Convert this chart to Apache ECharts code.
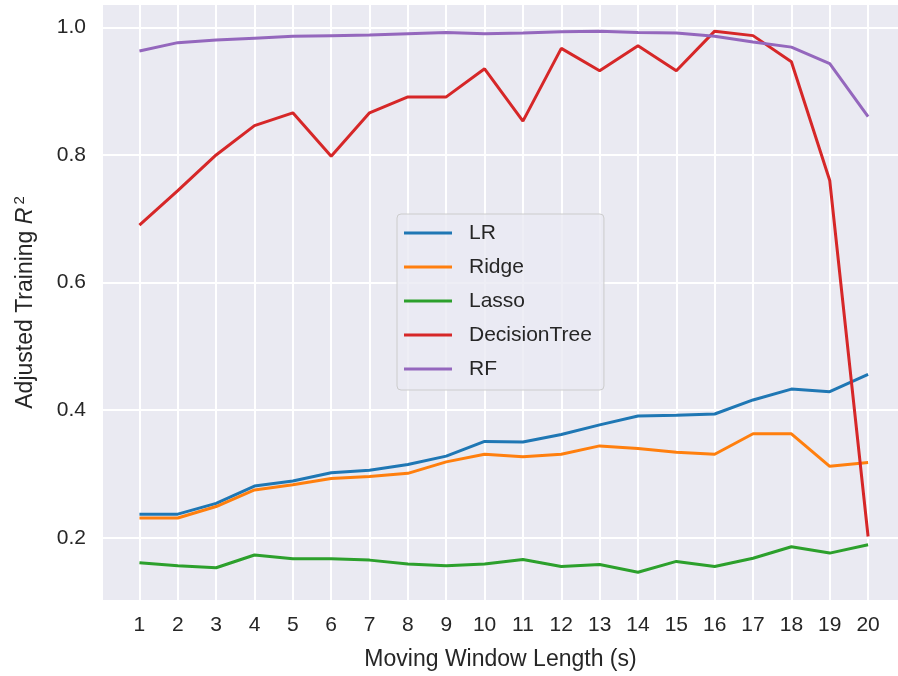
<!DOCTYPE html>
<html>
<head>
<meta charset="utf-8">
<script src="https://cdn.jsdelivr.net/npm/echarts@6/dist/echarts.min.js"></script>
<style>
  html, body { margin: 0; padding: 0; background: #ffffff; }
  #chart { width: 898px; height: 676px; }
</style>
</head>
<body>
<div id="chart"></div>
<script>
// Moving window lengths (seconds)
const windowLengths = [1, 2, 3, 4, 5, 6, 7, 8, 9, 10, 11, 12, 13, 14, 15, 16, 17, 18, 19, 20];

// Adjusted training R^2 per model
const lrValues = [0.237, 0.237, 0.254, 0.281, 0.289, 0.302, 0.306, 0.315, 0.328, 0.351,
                  0.350, 0.362, 0.377, 0.391, 0.392, 0.394, 0.416, 0.433, 0.429, 0.456];
const ridgeValues = [0.231, 0.231, 0.249, 0.275, 0.283, 0.293, 0.296, 0.301, 0.319, 0.331,
                     0.327, 0.331, 0.344, 0.340, 0.334, 0.331, 0.363, 0.363, 0.312, 0.318];
const lassoValues = [0.161, 0.156, 0.153, 0.173, 0.167, 0.167, 0.165, 0.159, 0.156, 0.159,
                     0.166, 0.155, 0.158, 0.146, 0.163, 0.155, 0.168, 0.186, 0.176, 0.189];
const treeValues = [0.690, 0.744, 0.800, 0.846, 0.866, 0.798, 0.866, 0.891, 0.891, 0.935,
                    0.853, 0.967, 0.932, 0.971, 0.932, 0.994, 0.987, 0.946, 0.760, 0.202];
const rfValues = [0.963, 0.976, 0.980, 0.983, 0.986, 0.987, 0.988, 0.990, 0.992, 0.990,
                  0.991, 0.993, 0.994, 0.992, 0.991, 0.986, 0.977, 0.969, 0.943, 0.860];

// Tick labels on the y axis
const yTicks = [0.2, 0.4, 0.6, 0.8, 1.0];

const seriesNames = ['LR', 'Ridge', 'Lasso', 'DecisionTree', 'RF'];
const seriesValues = [lrValues, ridgeValues, lassoValues, treeValues, rfValues];
const seriesColors = ['#1f77b4', '#ff7f0e', '#2ca02c', '#d62728', '#9467bd'];

const textColor = '#262626';
const fontFamily = '"Liberation Sans", Arial, sans-serif';

const chart = echarts.init(document.getElementById('chart'), null, { renderer: 'canvas' });

chart.setOption({
  animation: false,
  backgroundColor: '#ffffff',
  textStyle: { fontFamily: fontFamily, color: textColor },
  grid: {
    left: 103,
    top: 5,
    right: 0,
    bottom: 76,
    show: true,
    backgroundColor: '#eaeaf2',
    borderWidth: 0,
    containLabel: false
  },
  xAxis: {
    type: 'value',
    // the plotting area runs on past the right edge of the page
    min: 0.05,
    max: 20.78,
    name: 'Moving Window Length (s)',
    nameLocation: 'middle',
    nameGap: 48,
    nameTextStyle: { fontSize: 23, color: textColor, fontFamily: fontFamily },
    axisLine: { show: false },
    axisTick: { show: false, customValues: windowLengths },
    axisLabel: {
      customValues: windowLengths,
      fontSize: 21,
      color: textColor,
      margin: 15,
      fontFamily: fontFamily
    },
    splitLine: { show: true, lineStyle: { color: '#ffffff', width: 2 } }
  },
  yAxis: {
    type: 'value',
    min: 0.1025,
    max: 1.035,
    name: 'Adjusted Training {i|R}{sup|2}',
    nameLocation: 'middle',
    nameRotate: 90,
    nameGap: 64,
    nameTextStyle: {
      fontSize: 23,
      color: textColor,
      fontFamily: fontFamily,
      rich: {
        i: { fontSize: 23, fontStyle: 'italic', color: textColor, fontFamily: fontFamily },
        sup: { fontSize: 15, color: textColor, fontFamily: fontFamily, padding: [0, 0, 12, 3] }
      }
    },
    axisLine: { show: false },
    axisTick: { show: false, customValues: yTicks },
    axisLabel: {
      customValues: yTicks,
      fontSize: 21,
      color: textColor,
      margin: 17,
      fontFamily: fontFamily,
      formatter: function (v) { return v.toFixed(1); }
    },
    splitLine: { show: true, lineStyle: { color: '#ffffff', width: 2 } }
  },
  legend: {
    orient: 'vertical',
    left: 397,
    top: 214,
    width: 212,
    data: seriesNames,
    icon: 'rect',
    itemWidth: 48,
    itemHeight: 3,
    itemGap: 10,
    padding: [7, 12, 9, 7],
    backgroundColor: 'rgba(234,234,242,0.8)',
    borderColor: '#cccccc',
    borderWidth: 1,
    borderRadius: 4,
    textStyle: {
      fontSize: 21,
      lineHeight: 24,
      color: textColor,
      fontFamily: fontFamily,
      padding: [0, 0, 0, 12]
    }
  },
  series: seriesNames.map(function (name, k) {
    return {
      name: name,
      type: 'line',
      showSymbol: false,
      symbol: 'none',
      smooth: false,
      color: seriesColors[k],
      lineStyle: { width: 3, color: seriesColors[k] },
      data: windowLengths.map(function (x, i) { return [x, seriesValues[k][i]]; })
    };
  })
});
</script>
</body>
</html>
